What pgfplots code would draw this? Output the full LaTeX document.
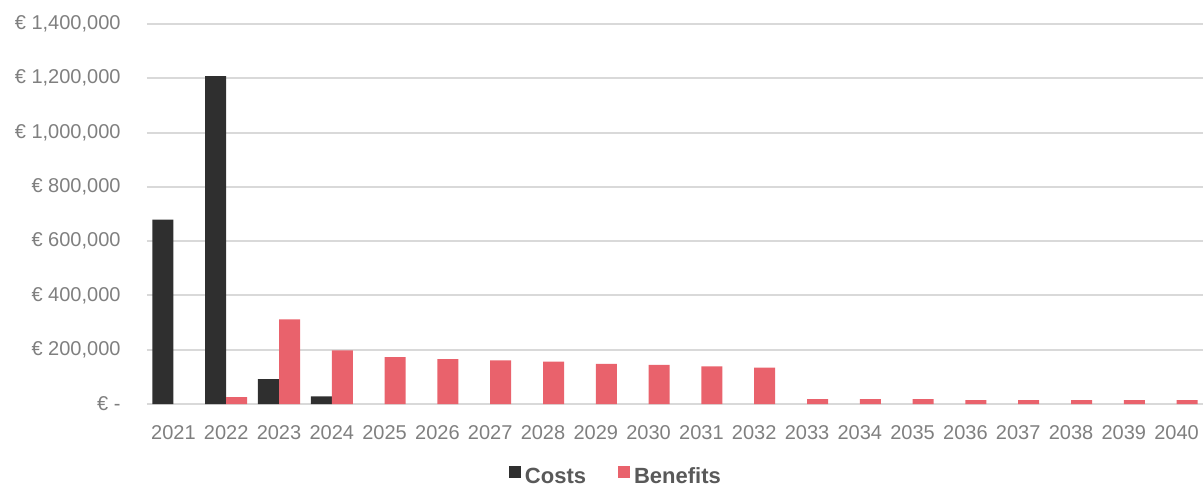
\documentclass[border=0pt]{standalone}
\usepackage{fontspec}
\setmainfont{Liberation Sans}
\usepackage{pgfplots}
\pgfplotsset{compat=1.18}
\definecolor{costc}{HTML}{2F2F2F}
\definecolor{benc}{HTML}{E9626C}
\definecolor{gridc}{HTML}{D9D9D9}
\definecolor{tickc}{HTML}{7F7F7F}
\definecolor{legc}{HTML}{595959}
\begin{document}
\begin{tikzpicture}
\begin{axis}[
  scale only axis,
  width=528pt, height=190pt,
  ybar=0pt, bar width=10.5pt,
  xmin=-0.5, xmax=19.5,
  ymin=0, ymax=1400000,
  xtick={0,1,2,3,4,5,6,7,8,9,10,11,12,13,14,15,16,17,18,19},
  xticklabels={2021,2022,2023,2024,2025,2026,2027,2028,2029,2030,2031,2032,2033,2034,2035,2036,2037,2038,2039,2040},
  ytick={0,200000,400000,600000,800000,1000000,1200000,1400000},
  yticklabels={{€ -\hspace{5.5pt}},{€ 200,000},{€ 400,000},{€ 600,000},{€ 800,000},{€ 1,000,000},{€ 1,200,000},{€ 1,400,000}},
  scaled y ticks=false,
  axis line style={draw=none},
  tick style={draw=none},
  ymajorgrids,
  major grid style={draw=gridc, line width=1pt},
  tick label style={font=\fontsize{10}{12}\selectfont, text=tickc},
  xticklabel style={yshift=-3pt},
  yticklabel style={xshift=-9.7pt},
  legend columns=2,
  legend style={draw=none, fill=none, at={(0.445,-0.193)}, anchor=center,
    font=\fontsize{11}{13}\selectfont\bfseries, text=legc,
    /tikz/every even column/.append style={column sep=14pt},
    inner sep=0pt},
  legend image code/.code={\fill[#1] (0pt,-0.5pt) rectangle (6pt,5.5pt);},
]
\addplot[fill=costc, draw=none] coordinates {(0,679000) (1,1208000) (2,92000) (3,28000)};
\addplot[fill=benc, draw=none] coordinates {(1,25000) (2,312000) (3,198000) (4,173000) (5,165000) (6,161000) (7,156000) (8,148000) (9,144000) (10,139000) (11,134000) (12,18000) (13,18000) (14,18000) (15,14000) (16,14000) (17,14000) (18,14000) (19,14000)};
\legend{Costs,Benefits}
\end{axis}
\pgfresetboundingbox
\path[use as bounding box] (current axis.south west) ++(-73.5pt,-42pt) rectangle ++(601.5pt,244pt);
\end{tikzpicture}
\end{document}
